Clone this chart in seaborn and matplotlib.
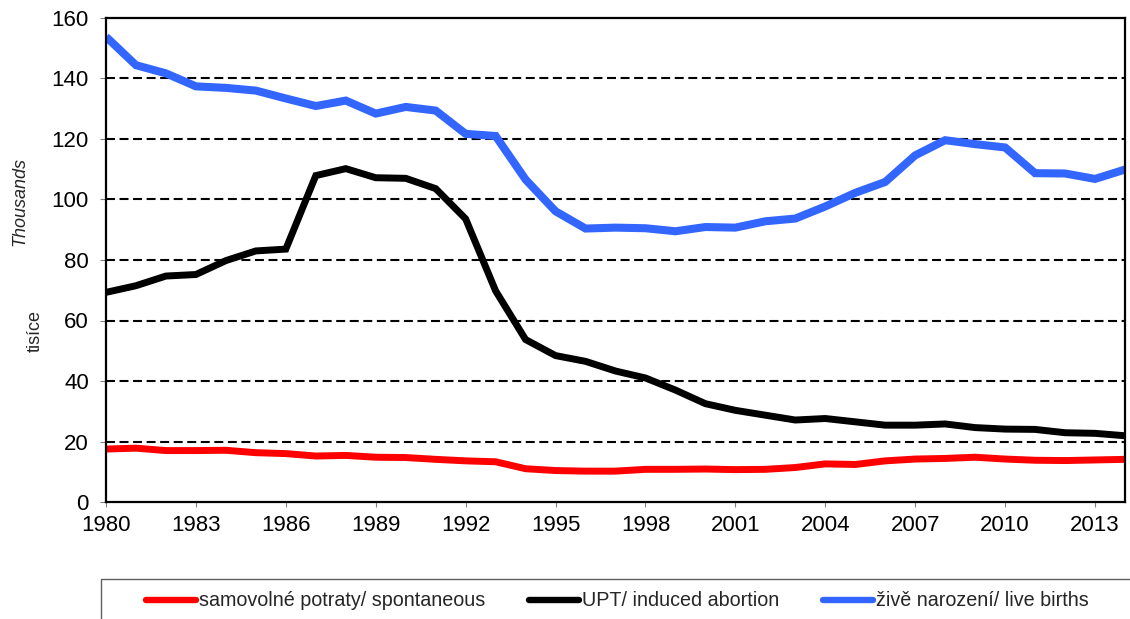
import matplotlib
matplotlib.use("Agg")

import matplotlib.pyplot as plt
import numpy as np
import pandas as pd
import seaborn as sns
from matplotlib.patches import Rectangle

# ---------------------------------------------------------------------------
# Data (thousands)
# ---------------------------------------------------------------------------
years = list(range(1980, 2015))

spontaneous = [17.5, 17.8, 17.0, 17.0, 17.1, 16.3, 16.0, 15.2, 15.4, 14.8,
               14.7, 14.1, 13.6, 13.3, 11.0, 10.4, 10.2, 10.2, 10.8, 10.8,
               10.9, 10.7, 10.8, 11.4, 12.6, 12.4, 13.6, 14.2, 14.4, 14.8,
               14.2, 13.8, 13.7, 13.9, 14.1]

induced = [69.3, 71.5, 74.7, 75.2, 79.8, 83.0, 83.6, 107.9, 110.2, 107.2,
           107.0, 103.6, 93.6, 69.8, 53.7, 48.4, 46.5, 43.3, 41.0, 37.0,
           32.5, 30.3, 28.7, 27.1, 27.6, 26.5, 25.4, 25.4, 25.8, 24.6,
           24.1, 24.0, 22.9, 22.7, 21.9]

live_births = [153.8, 144.4, 141.7, 137.4, 136.9, 136.0, 133.4, 130.9, 132.7, 128.4,
               130.6, 129.4, 121.7, 121.0, 106.6, 96.1, 90.4, 90.7, 90.5, 89.5,
               90.9, 90.7, 92.8, 93.7, 97.7, 102.2, 105.8, 114.6, 119.6, 118.3,
               117.2, 108.7, 108.6, 106.8, 109.9]

labels = ["samovolné potraty/ spontaneous", "UPT/ induced abortion",
          "živě narození/ live births"]
colors = ["#FF0000", "#000000", "#3366FF"]
widths = [5.0, 5.0, 5.8]

y_ticks = list(range(0, 161, 20))
x_ticks = list(range(1980, 2014, 3))

df = pd.DataFrame({
    "year": years * 3,
    "value": spontaneous + induced + live_births,
    "series": sum([[lab] * len(years) for lab in labels], []),
})

# ---------------------------------------------------------------------------
# Style
# ---------------------------------------------------------------------------
sns.set_style("ticks")
plt.rcParams["font.family"] = ["Liberation Sans", "DejaVu Sans"]

W, H = 1130, 619
fig = plt.figure(figsize=(W / 100, H / 100), dpi=100)
ax = fig.add_axes([106 / W, 1 - 502 / H, (1125 - 106) / W, (502 - 18) / H])

for lab, col, lw in zip(labels, colors, widths):
    sns.lineplot(data=df[df["series"] == lab], x="year", y="value",
                 color=col, linewidth=lw, label=lab, ax=ax,
                 solid_joinstyle="miter", solid_capstyle="butt")

# dashed horizontal gridlines
for yv in y_ticks[1:-1]:
    ax.axhline(yv, color="black", linewidth=1.5, dashes=(4.3, 2.2), zorder=0)

ax.set_xlim(1980, 2014)
ax.set_ylim(0, 160)
ax.set_xticks(x_ticks)
ax.set_yticks(y_ticks)
ax.set_xlabel("")
ax.set_ylabel("")
ax.tick_params(axis="both", labelsize=16, colors="#808080", labelcolor="black",
               direction="out")
ax.tick_params(axis="y", length=4.3, pad=8)
ax.tick_params(axis="x", length=3.6, pad=6)
for sp in ax.spines.values():
    sp.set_visible(True)
    sp.set_color("black")
    sp.set_linewidth(1.6)

ax.get_legend().remove()

# y-axis captions
fig.text(20 / W, 1 - 202 / H, "Thousands", rotation=90, style="italic",
         fontsize=13, ha="center", va="center")
fig.text(35 / W, 1 - 331 / H, "tisíce", rotation=90,
         fontsize=13, ha="center", va="center")

# legend box at the bottom
fig.patches.append(Rectangle((101 / W, -0.1), 1.0, (619 - 579) / H + 0.1,
                             transform=fig.transFigure, fill=False,
                             edgecolor="#606060", linewidth=1.0))
handles, _ = ax.get_legend_handles_labels()
leg = fig.legend(handles, labels, loc="center left",
                 bbox_to_anchor=(146 / W, 1 - 601 / H), ncol=3, frameon=False,
                 fontsize=14.2, handlelength=2.55, handletextpad=0.15,
                 columnspacing=2.2, borderpad=0, borderaxespad=0)
for h in leg.legend_handles:
    h.set_linewidth(4.6)
    h.set_solid_capstyle("round")

fig.savefig("out.png", dpi=100, facecolor="white")
